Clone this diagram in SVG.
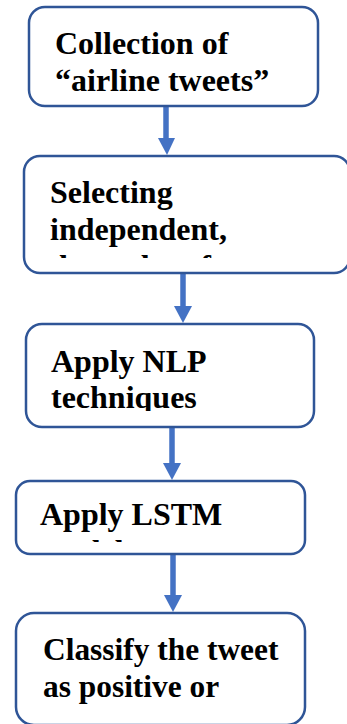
<svg xmlns="http://www.w3.org/2000/svg" width="347" height="724" viewBox="0 0 347 724">
<style>
.box{fill:#fff;stroke:#2F5597;stroke-width:2.5}
.sh{stroke:#4472C4;stroke-width:5.5;fill:none}
.hd{fill:#4472C4}
.t{font-family:"Liberation Serif","Times New Roman",serif;font-weight:bold;font-size:32px;fill:#000}
</style>
<defs>
<clipPath id="c2"><rect x="24" y="156" width="330" height="102"/></clipPath>
<clipPath id="c3"><rect x="26" y="324" width="290" height="87"/></clipPath>
<clipPath id="c4"><rect x="16" y="481" width="290" height="61"/></clipPath>
</defs>
<g id="connectors">
<line class="sh" x1="166" y1="107" x2="166" y2="139"/>
<polygon class="hd" points="158,138 175,138 167,155"/>
<line class="sh" x1="183" y1="274" x2="183" y2="308"/>
<polygon class="hd" points="174,306 192,306 183,323"/>
<line class="sh" x1="172" y1="428" x2="172" y2="465"/>
<polygon class="hd" points="163,463 181,463 172,480"/>
<line class="sh" x1="173" y1="555" x2="173" y2="597"/>
<polygon class="hd" points="164,595 182,595 173,612"/>
</g>
<g id="n1">
<rect class="box" x="29" y="7" width="289" height="99" rx="16"/>
<text class="t" x="55" y="54">Collection of</text>
<text class="t" x="55" y="91">“airline tweets”</text>
</g>
<g id="n2">
<rect class="box" x="24" y="156" width="326" height="117" rx="16"/>
<g clip-path="url(#c2)">
<text class="t" x="50" y="203">Selecting</text>
<text class="t" x="50" y="240">independent,</text>
<text class="t" x="50" y="277">dependent features</text>
</g>
</g>
<g id="n3">
<rect class="box" x="26" y="324" width="288" height="103" rx="16"/>
<g clip-path="url(#c3)">
<text class="t" x="51" y="372">Apply NLP</text>
<text class="t" x="51" y="408">techniques</text>
</g>
</g>
<g id="n4">
<rect class="box" x="16" y="481" width="289" height="73" rx="14"/>
<g clip-path="url(#c4)">
<text class="t" x="40" y="525">Apply LSTM</text>
<text class="t" x="40" y="562">model</text>
</g>
</g>
<g id="n5">
<rect class="box" x="16" y="613" width="289" height="112" rx="18"/>
<text class="t" x="43" y="660" style="font-size:31.4px">Classify the tweet</text>
<text class="t" x="43" y="697" style="font-size:31.4px">as positive or</text>
</g>
</svg>
